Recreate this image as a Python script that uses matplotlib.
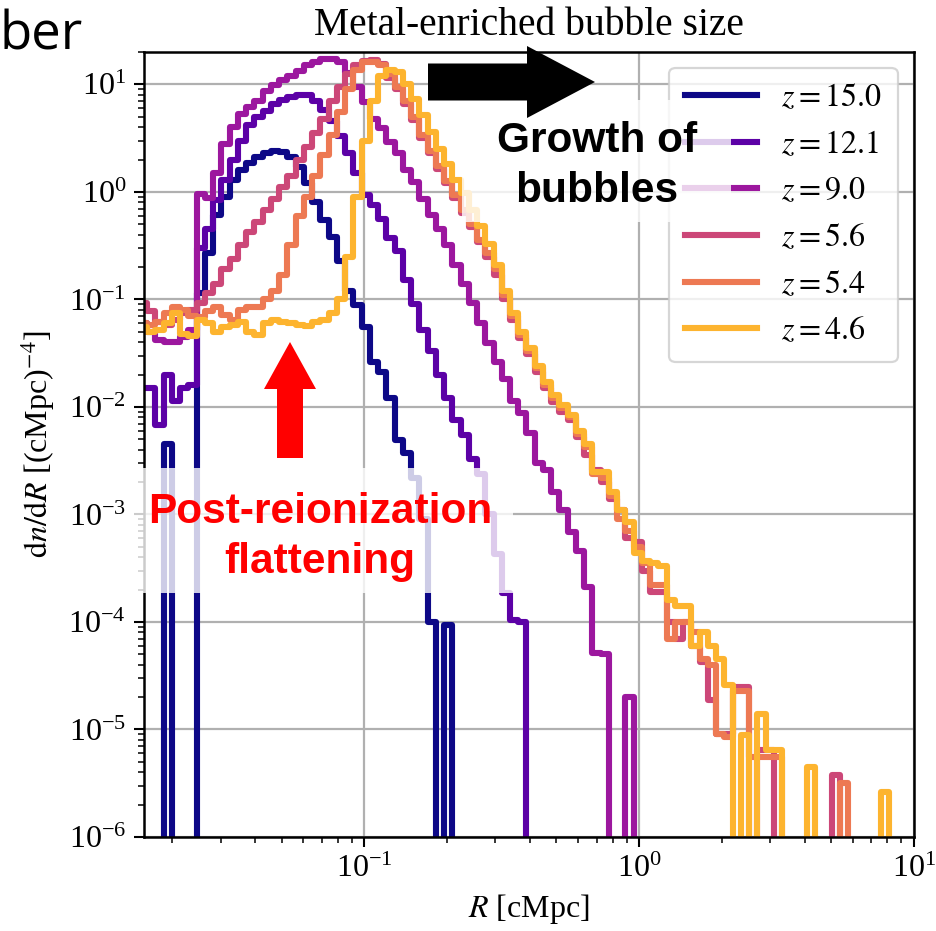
import numpy as np
import matplotlib
matplotlib.use('Agg')
import matplotlib.pyplot as plt
from matplotlib.patches import Rectangle, FancyArrow
from matplotlib.ticker import LogLocator, NullFormatter, FixedLocator, LogFormatterSciNotation

plt.rcParams['font.family'] = ['Liberation Serif', 'DejaVu Serif']
plt.rcParams['mathtext.fontset'] = 'stix'

# ---------------- data ----------------
# log10 of bin edges (R in cMpc), 0.03 dex bins
log_edges = np.linspace(-1.82, 1.0, 95)
redshift_labels = ['15.0', '12.1', '9.0', '5.6', '5.4', '4.6']
x_ticks = [0.1, 1.0, 10.0]
y_ticks = [1e-6, 1e-5, 1e-4, 1e-3, 1e-2, 1e-1, 1e0, 1e1]

dndr_z150 = [0, 0, 0, 4.5e-3,
             0, 0, 0, 0.115, 0.27, 0.61, 0.9, 1.29, 1.6, 1.86,
             2.12, 2.3, 2.4, 2.35, 2.1, 1.7, 1.2, 0.8, 0.55, 0.38,
             0.23, 0.12, 0.089, 0.055, 0.026, 0.021, 0.012, 0.0049, 0.0037, 0.0022,
             0.0009, 1.0e-4, 0, 9.3e-5, 0, 0, 0, 0, 0, 0,
             0, 0, 0, 0, 0, 0, 0, 0, 0, 0,
             0, 0, 0, 0, 0, 0, 0, 0, 0, 0,
             0, 0, 0, 0, 0, 0, 0, 0, 0, 0,
             0, 0, 0, 0, 0, 0, 0, 0, 0, 0,
             0, 0, 0, 0, 0, 0, 0, 0, 0, 0]

dndr_z121 = [0.015, 0.015, 0.0068, 0.02,
             0.0114, 0.015, 0.016, 0.3, 0.45, 0.84, 1.3, 2.0, 3.0, 4.2,
             5.0, 5.6, 6.5, 7.2, 7.7, 8.0, 7.9, 7.0, 5.8, 4.6,
             3.3, 2.3, 1.5, 0.93, 0.75, 0.56, 0.37, 0.28, 0.15, 0.09,
             0.052, 0.033, 0.02, 0.012, 0.0075, 0.0055, 0.0033, 0.0024, 0.001, 4.3e-4,
             1.85e-4, 1.05e-4, 1.0e-4, 0, 0, 0, 0, 0, 0, 0,
             0, 0, 0, 0, 0, 0, 0, 0, 0, 0,
             0, 0, 0, 0, 0, 0, 0, 0, 0, 0,
             0, 0, 0, 0, 0, 0, 0, 0, 0, 0,
             0, 0, 0, 0, 0, 0, 0, 0, 0, 0]

dndr_z090 = [0.06, 0.05, 0.042, 0.04,
             0.04, 0.045, 0.052, 0.95, 0.87, 1.5, 2.8, 4.0, 5.3, 6.2,
             7.0, 8.6, 9.8, 11.0, 12.0, 13.2, 15.0, 16.2, 17.2, 17.2,
             16.0, 12.7, 9.5, 6.8, 4.8, 3.9, 2.9, 2.3, 1.6, 1.23,
             0.86, 0.61, 0.45, 0.32, 0.21, 0.14, 0.093, 0.06, 0.039, 0.026,
             0.018, 0.0114, 0.0088, 0.0057, 0.003, 0.0026, 0.0016, 0.0011, 6.8e-4, 4.6e-4,
             2.1e-4, 5.1e-5, 5.0e-5, 0, 0, 2.0e-5, 0, 0, 0, 0,
             0, 0, 0, 0, 0, 0, 0, 0, 0, 0,
             0, 0, 0, 0, 0, 0, 0, 0, 0, 0,
             0, 0, 0, 0, 0, 0, 0, 0, 0, 0]

dndr_z056 = [0.092, 0.078, 0.062, 0.058,
             0.065, 0.075, 0.08, 0.093, 0.115, 0.14, 0.19, 0.24, 0.32, 0.42,
             0.52, 0.68, 0.85, 1.1, 1.4, 2.0, 2.6, 3.5, 4.8, 7.0,
             9.5, 12.5, 15.0, 16.5, 17.0, 15.5, 11.5, 9.0, 6.6, 4.7,
             3.2, 2.3, 1.65, 1.2, 0.88, 0.64, 0.47, 0.34, 0.25, 0.17,
             0.1, 0.065, 0.044, 0.031, 0.021, 0.015, 0.011, 0.009, 0.0075, 0.0052,
             0.0036, 0.0026, 0.002, 0.0014, 0.0011, 6e-4, 5.5e-4, 3e-4, 1.9e-4, 1.9e-4,
             1.0e-4, 6.9e-5, 1.0e-4, 6e-5, 4.2e-5, 1.9e-5, 9e-6, 9e-6, 2.5e-5, 2.5e-5,
             0, 6.4e-6, 6.4e-6, 0, 0, 0, 0, 0, 0, 0,
             3.8e-6, 0, 0, 0, 0, 0, 0, 0, 0, 0]

dndr_z054 = [0.06, 0.058, 0.062, 0.075,
             0.085, 0.08, 0.07, 0.068, 0.078, 0.085, 0.072, 0.065, 0.08, 0.085,
             0.085, 0.1, 0.12, 0.17, 0.32, 0.6, 0.9, 1.4, 2.2, 3.4,
             5.5, 9.0, 13.5, 16.0, 16.3, 15.0, 12.5, 9.5, 7.0, 5.0,
             3.4, 2.4, 1.75, 1.25, 0.93, 0.68, 0.5, 0.36, 0.27, 0.19,
             0.11, 0.07, 0.047, 0.033, 0.023, 0.016, 0.012, 0.0098, 0.008, 0.0056,
             0.0042, 0.0024, 0.0022, 0.0015, 0.0009, 7e-4, 5e-4, 3.5e-4, 2.2e-4, 2.2e-4,
             7e-5, 1.0e-4, 1.0e-4, 8e-5, 4.5e-5, 4e-5, 9e-6, 8.5e-6, 2.3e-5, 2.3e-5,
             5.5e-6, 5.5e-6, 5.5e-6, 5.5e-6, 0, 0, 0, 0, 0, 0,
             0, 3.2e-6, 0, 0, 0, 0, 0, 0, 0, 0]

dndr_z046 = [0.055, 0.05, 0.052, 0.06,
             0.075, 0.048, 0.046, 0.065, 0.06, 0.05, 0.055, 0.058, 0.062, 0.05,
             0.047, 0.06, 0.065, 0.062, 0.06, 0.058, 0.056, 0.062, 0.065, 0.075,
             0.1, 0.25, 0.9, 3.0, 7.0, 12.0, 13.5, 13.0, 10.0, 7.3,
             5.2, 3.6, 2.5, 1.8, 1.3, 0.97, 0.68, 0.48, 0.33, 0.21,
             0.12, 0.075, 0.05, 0.035, 0.024, 0.017, 0.013, 0.0105, 0.0085, 0.006,
             0.0045, 0.0025, 0.0025, 0.0016, 0.0011, 8.5e-4, 4.4e-4, 3.7e-4, 3.5e-4, 3.3e-4,
             1.6e-4, 1.4e-4, 1.4e-4, 6e-5, 8e-5, 6e-5, 4.5e-5, 2.6e-5, 0, 8.9e-6,
             0, 1.4e-5, 6.4e-6, 6.4e-6, 0, 0, 0, 4.5e-6, 0, 0,
             0, 0, 0, 0, 0, 0, 2.6e-6, 0, 0, 0]

series = [dndr_z150, dndr_z121, dndr_z090, dndr_z056, dndr_z054, dndr_z046]

# ---------------- figure ----------------
W, H = 936, 931
fig = plt.figure(figsize=(W / 100, H / 100), dpi=100)

def fx(x):
    return x / W

def fy(y):
    return 1 - y / H

ax_l, ax_r, ax_t, ax_b = 143.5, 914, 52, 837
ax = fig.add_axes([fx(ax_l), fy(ax_b), (ax_r - ax_l) / W, (ax_b - ax_t) / H])

edges = 10 ** log_edges
colors = plt.cm.plasma(np.arange(6) / 6)
for vals, lab, c in zip(series, redshift_labels, colors):
    v = np.array(vals, dtype=float)
    v = np.where(v > 0, v, 1e-30)
    ax.stairs(v, edges, baseline=None, color=c, lw=4.4, label=r'$z = %s$' % lab,
              joinstyle='round', capstyle='round')

ax.set_xscale('log')
ax.set_yscale('log')
ax.set_xlim(0.01572, 10)
ax.set_ylim(1e-6, 20)

ax.xaxis.set_major_locator(FixedLocator(x_ticks))
ax.yaxis.set_major_locator(FixedLocator(y_ticks))
ax.xaxis.set_major_formatter(LogFormatterSciNotation())
ax.yaxis.set_major_formatter(LogFormatterSciNotation())
ax.xaxis.set_minor_locator(LogLocator(base=10, subs=np.arange(2, 10), numticks=100))
ax.yaxis.set_minor_locator(LogLocator(base=10, subs=np.arange(2, 10), numticks=100))
ax.xaxis.set_minor_formatter(NullFormatter())
ax.yaxis.set_minor_formatter(NullFormatter())

ax.grid(True, which='major', color='#b0b0b0', lw=1.6)
ax.set_axisbelow(True)
for s in ax.spines.values():
    s.set_linewidth(1.8)
ax.tick_params(which='major', length=7.5, width=1.5, labelsize=23, pad=5)
ax.tick_params(which='minor', length=4.2, width=1.1)

ax.set_xlabel(r'$R$ [cMpc]', fontsize=23, labelpad=6)
ax.set_ylabel(r'$\mathrm{d}n/\mathrm{d}R$ [(cMpc)$^{-4}$]', fontsize=23, labelpad=8)

leg = ax.legend(loc='upper right', bbox_to_anchor=(0.979, 0.98), borderaxespad=0,
                fontsize=23, handlelength=2.25, handletextpad=0.75, labelspacing=0.53,
                borderpad=0.5, framealpha=0.8)
leg.get_frame().set_linewidth(1.6)

# ---------------- annotations ----------------
fig.add_artist(Rectangle((fx(462), fy(222)), (731 - 462) / W, (222 - 100) / H,
                         transform=fig.transFigure, facecolor='white', alpha=0.8,
                         edgecolor='none', zorder=5))
fig.add_artist(Rectangle((fx(127), fy(593)), (513 - 127) / W, (593 - 468) / H,
                         transform=fig.transFigure, facecolor='white', alpha=0.8,
                         edgecolor='none', zorder=5))

fig.add_artist(FancyArrow(fx(428), fy(82), fx(595) - fx(428), 0,
                          width=37 / H, head_width=72 / H, head_length=68 / W,
                          length_includes_head=True, color='black', lw=0,
                          transform=fig.transFigure, zorder=8))
fig.add_artist(FancyArrow(fx(290), fy(458), 0, (458 - 342) / H,
                          width=26 / W, head_width=52 / W, head_length=47 / H,
                          length_includes_head=True, color='red', lw=0,
                          transform=fig.transFigure, zorder=8))

sans_bold = dict(family=['Liberation Sans', 'DejaVu Sans'], weight='bold', fontsize=30.5)
fig.text(fx(597), fy(152), 'Growth of', ha='center', va='baseline', color='black', zorder=10, **sans_bold)
fig.text(fx(597), fy(202), 'bubbles', ha='center', va='baseline', color='black', zorder=10, **sans_bold)
fig.text(fx(320), fy(523), 'Post-reionization', ha='center', va='baseline', color='red', zorder=10, **sans_bold)
fig.text(fx(320), fy(573), 'flattening', ha='center', va='baseline', color='red', zorder=10, **sans_bold)

fig.text(fx(529), fy(35), 'Metal-enriched bubble size', ha='center', va='baseline',
         fontsize=28.5, family=['Liberation Serif', 'DejaVu Serif'], zorder=10)
fig.text(fx(0), fy(50), 'ber', ha='left', va='baseline', fontsize=38,
         family=['Open Sans', 'DejaVu Sans'], zorder=10)

fig.savefig('out.png', dpi=100)
